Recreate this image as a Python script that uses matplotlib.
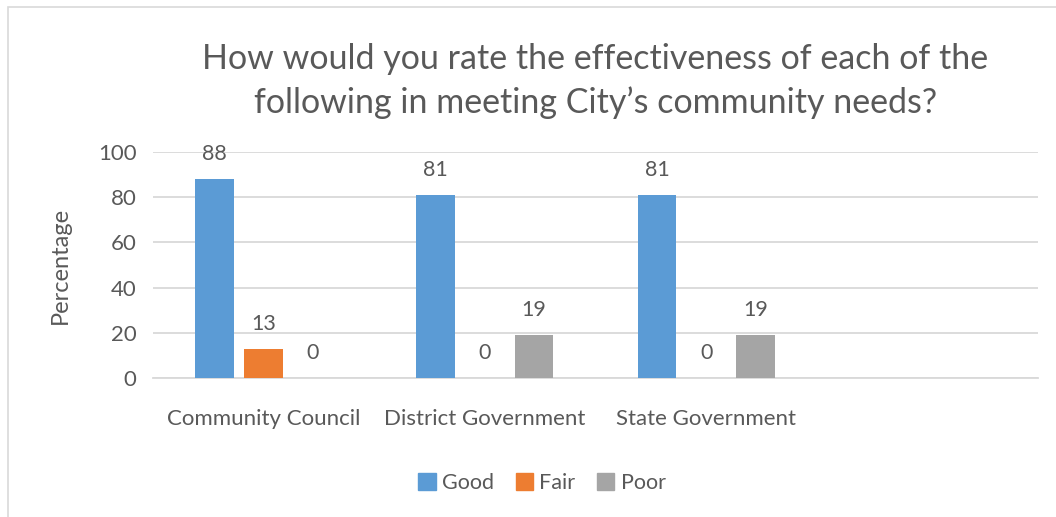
import matplotlib.pyplot as plt
from matplotlib.patches import Rectangle, Patch
import numpy as np

# chart data
categories = ["Community Council", "District Government", "State Government", ""]
good = [88, 81, 81, None]
fair = [13, 0, 0, None]
poor = [0, 19, 19, None]
series_names = ["Good", "Fair", "Poor"]
colors = ["#5B9BD5", "#ED7D31", "#A5A5A5"]
title = "How would you rate the effectiveness of each of the\nfollowing in meeting City\u2019s community needs?"

W, H = 1056, 517
text_color = "#595959"
plt.rcParams['font.family'] = ['Lato', 'DejaVu Sans']

fig = plt.figure(figsize=(W / 100, H / 100), dpi=100)

# outer chart border (cut off on right and bottom)
fig.patches.append(Rectangle((8 / W, -0.1), 1.2, (H - 7) / H + 0.1, transform=fig.transFigure,
                             fill=False, edgecolor="#d9d9d9", linewidth=1.2))

x0, x1 = 153, 1038
y_top, y_bot = 152, 378
ax = fig.add_axes([x0 / W, (H - y_bot) / H, (x1 - x0) / W, (y_bot - y_top) / H])

x = np.arange(len(categories))
width = 0.176
step = 0.222
for k, (vals, name, c) in enumerate(zip([good, fair, poor], series_names, colors)):
    xs = [xi + (k - 1) * step for xi, v in zip(x, vals) if v is not None]
    vs = [v for v in vals if v is not None]
    ax.bar(xs, vs, width=width, color=c, label=name, zorder=3)
    for xi, v in zip(xs, vs):
        ax.annotate(str(v), (xi, v), xytext=(0, 18), textcoords="offset points",
                    ha="center", va="center", fontsize=15.5, color=text_color)

ax.set_xlim(-0.5, len(categories) - 0.5)
ax.set_ylim(0, 100)
ax.set_yticks(range(0, 101, 20))
ax.set_xticks(x)
ax.set_xticklabels(categories)
ax.yaxis.grid(True, color="#d9d9d9", linewidth=1.3, zorder=0)
ax.set_axisbelow(True)
for s in ["top", "right", "left"]:
    ax.spines[s].set_visible(False)
ax.spines["bottom"].set_color("#d9d9d9")
ax.spines["bottom"].set_linewidth(1.3)
ax.tick_params(axis="both", length=0, labelsize=16, colors=text_color)
ax.tick_params(axis="x", pad=22)
ax.tick_params(axis="y", pad=12)
ax.set_ylabel("Percentage", fontsize=17, color=text_color, labelpad=19)

fig.text((x0 + x1) / 2 / W, 1 - 81 / H, title, ha="center", va="center",
         fontsize=24.5, color=text_color, linespacing=1.42)

handles = [Patch(color=c, label=n) for c, n in zip(colors, series_names)]
fig.legend(handles=handles, loc="center", bbox_to_anchor=(542 / W, 1 - 483 / H), ncol=3,
           frameon=False, fontsize=15.5, labelcolor=text_color, handlelength=0.8, handleheight=0.8,
           handletextpad=0.3, columnspacing=1.0)

fig.savefig("out.png", dpi=100)
